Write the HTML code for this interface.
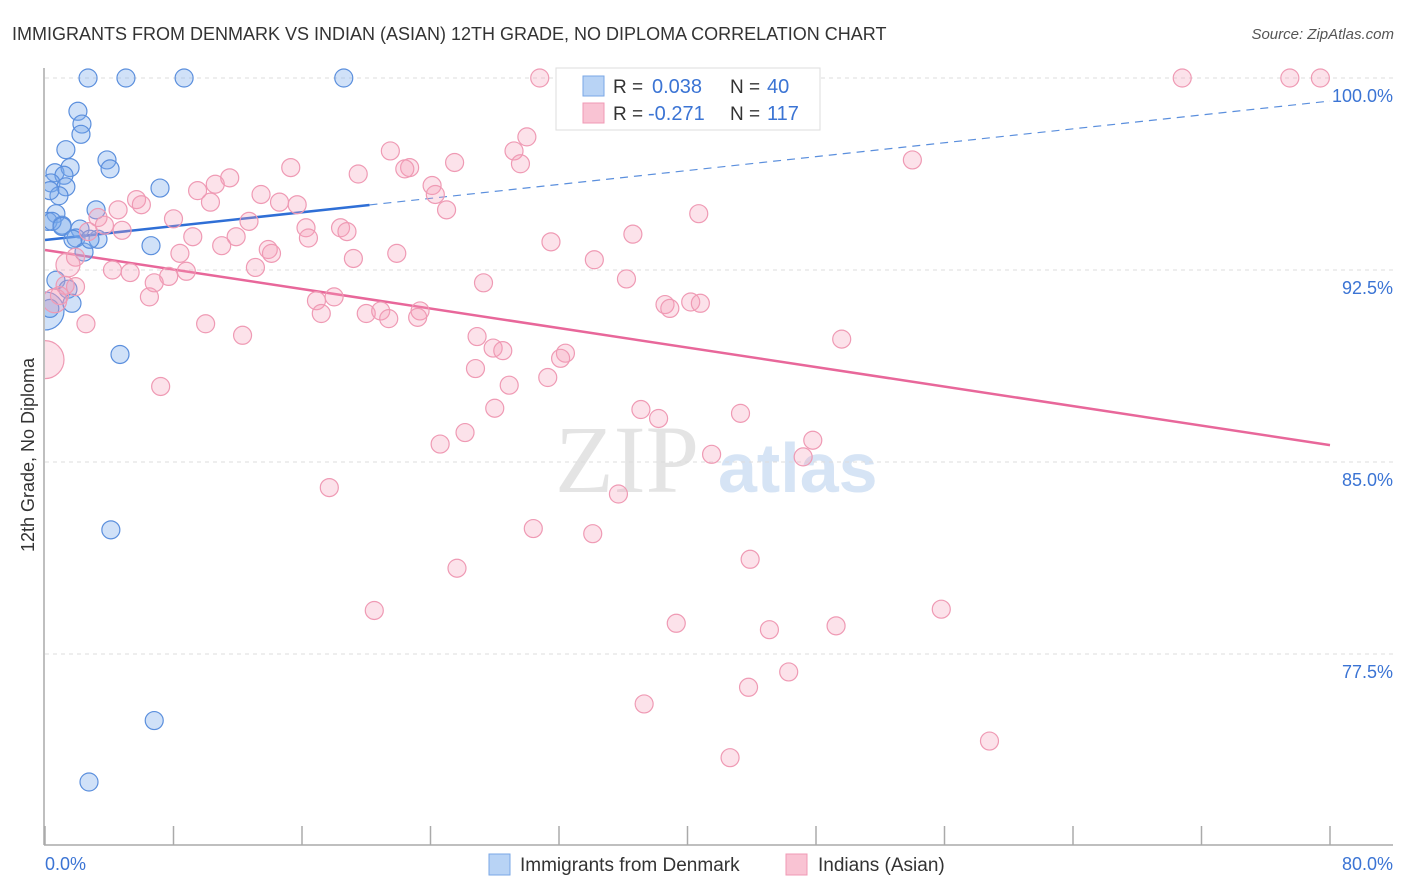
<!DOCTYPE html>
<html><head><meta charset="utf-8"><style>
body{margin:0;background:#fff;font-family:"Liberation Sans",sans-serif;}
svg{display:block}
</style></head><body>
<svg id="chart" width="1406" height="892" xmlns="http://www.w3.org/2000/svg">
<text x="12" y="40" font-size="18" fill="#333">IMMIGRANTS FROM DENMARK VS INDIAN (ASIAN) 12TH GRADE, NO DIPLOMA CORRELATION CHART</text>
<text x="1394" y="39" font-size="15" fill="#555" font-style="italic" text-anchor="end">Source: ZipAtlas.com</text>
<text x="555" y="492" font-size="96" fill="#e4e4e4" font-family="Liberation Serif,serif">ZIP</text>
<text x="718" y="492" font-size="70" fill="#d6e4f5" font-weight="bold">atlas</text>
<g id="grid"></g><g id="trend"></g>
<svg x="45" y="55" width="1361" height="790" overflow="hidden"><g id="pts" transform="translate(-45,-55)"></g></svg>
<rect x="0" y="60" width="44" height="790" fill="#fff"/>
<text transform="translate(34,455) rotate(-90)" font-size="18" fill="#333" text-anchor="middle">12th Grade, No Diploma</text>
<g id="axes"></g>
<g>
<rect x="556" y="68" width="264" height="62" fill="#fff" stroke="#ddd"/>
<rect x="583" y="76" width="21" height="20" fill="#b8d3f5" stroke="#7aa7e6"/>
<rect x="583" y="103" width="21" height="20" fill="#f9c3d3" stroke="#f09ab4"/>
<text x="613" y="93" font-size="19" fill="#333">R = </text><text x="652" y="93" font-size="20" fill="#3b74d4">0.038</text>
<text x="730" y="93" font-size="19" fill="#333">N = </text><text x="767" y="93" font-size="20" fill="#3b74d4">40</text>
<text x="613" y="120" font-size="19" fill="#333">R = </text><text x="648" y="120" font-size="20" fill="#3b74d4">-0.271</text>
<text x="730" y="120" font-size="19" fill="#333">N = </text><text x="767" y="120" font-size="20" fill="#3b74d4">117</text>
</g>
<g>
<rect x="489" y="854" width="21" height="21" fill="#b8d3f5" stroke="#7aa7e6"/>
<text x="520" y="871" font-size="19" fill="#333">Immigrants from Denmark</text>
<rect x="786" y="854" width="21" height="21" fill="#f9c3d3" stroke="#f09ab4"/>
<text x="818" y="871" font-size="19" fill="#333">Indians (Asian)</text>
</g>
</svg>
<script>
const yTicks=[100,92.5,85,77.5];
const yTickLabels=["100.0%","92.5%","85.0%","77.5%"];
const xTicks=[0,8,16,24,32,40,48,56,64,72,80];
const xEndLabels=["0.0%","80.0%"];
const blueX=[2.68,5.04,8.66,18.6,2.05,2.3,2.24,1.3,3.86,4.05,0.62,1.56,1.18,0.37,1.3,0.87,7.16,3.18,0.68,0.19,1.06,2.18,1.93,3.3,6.6,2.43,0.68,1.43,1.68,0.0,4.67,4.1,6.8,2.74,0.3,0.44,2.8,1.06,1.74,0.3];
const blueY=[100,100,100,100,98.7,98.2,97.8,97.2,96.8,96.45,96.3,96.5,96.2,95.9,95.75,95.4,95.7,94.85,94.7,94.4,94.25,94.1,93.75,93.7,93.45,93.2,92.1,91.75,91.2,90.9,89.2,82.35,74.9,72.5,95.6,94.4,93.7,94.2,93.7,91.0];
const blueR=[9,9,9,9,9,9,9,9,9,9,9,9,9,9,9,9,9,9,9,9,9,9,9,9,9,9,9,9,9,19,9,9,9,9,9,9,9,9,9,9];
const pinkX=[30.8,46.8,70.8,77.5,79.4,30.0,21.5,29.2,15.3,22.7,25.5,22.4,29.6,54.0,11.5,19.5,10.6,24.1,9.5,13.45,24.3,5.7,6.0,10.3,14.6,15.7,4.55,25.0,40.7,3.3,8.0,12.7,16.25,18.4,3.7,4.8,18.8,9.2,11.9,16.4,36.6,31.5,11.0,13.9,14.1,8.4,21.9,1.9,19.2,34.2,4.2,5.3,8.8,13.1,7.7,6.8,36.2,27.3,1.25,1.9,0.9,6.5,16.9,18.0,38.6,38.9,40.2,40.8,17.2,20.0,20.9,23.35,21.4,23.2,2.55,10.0,12.3,26.9,49.6,27.9,28.5,32.4,32.1,26.8,28.9,31.3,7.2,28.0,37.1,43.3,38.2,26.15,24.6,47.8,41.5,47.2,17.7,35.7,30.4,34.1,25.65,43.9,20.5,55.8,39.3,45.1,49.25,46.3,43.8,37.3,58.8,42.65,0.0,1.43,0.6,2.7,47.0];
const pinkY=[100,100,100,100,100,97.7,97.15,97.15,96.5,96.5,96.7,96.45,96.65,96.8,96.1,96.25,95.85,95.8,95.6,95.45,95.45,95.25,95.05,95.15,95.15,95.05,94.85,94.85,94.7,94.55,94.5,94.4,94.15,94.15,94.25,94.05,94.0,93.8,93.8,93.75,93.9,93.6,93.45,93.3,93.15,93.15,93.15,93.0,92.95,92.9,92.5,92.4,92.45,92.6,92.25,92.0,92.15,92.0,91.9,91.85,91.5,91.45,91.3,91.45,91.15,91.0,91.25,91.2,90.8,90.8,90.9,90.9,90.6,90.65,90.4,90.4,89.95,89.9,89.8,89.45,89.35,89.25,89.05,88.65,88.0,88.3,87.95,87.1,87.05,86.9,86.7,86.15,85.7,85.85,85.3,85.2,84.0,83.75,82.4,82.2,80.85,81.2,79.2,79.25,78.7,78.45,78.6,76.8,76.2,75.55,74.1,73.45,89.0,92.7,91.3,94.0,100];
const pinkR=pinkX.map((v,i)=>i===pinkX.length-5?19:(i===pinkX.length-4||i===pinkX.length-3?12:9));
const blueTrend=[93.67,99.1];
const pinkTrend=[93.28,85.66];
const blueSolidEnd=[20.2];

const NS="http://www.w3.org/2000/svg";
const X=v=>45+v*(1285/80);
const Y=v=>78+(100-v)*25.6;
function mk(parent,tag,attrs){const e=document.createElementNS(NS,tag);for(const k in attrs)e.setAttribute(k,attrs[k]);document.getElementById(parent).appendChild(e);return e;}
yTicks.forEach((t,i)=>{
 const l=mk('grid','line',{x1:45,x2:1393,y1:Y(t),y2:Y(t),stroke:'#ddd','stroke-dasharray':'4,4'});
 
 
 const tx=mk('grid','text',{x:1393,y:Y(t)+24,'font-size':18,fill:'#3b74d4','text-anchor':'end'});
 tx.textContent=yTickLabels[i];
 
 
});
const ax=mk('axes','line',{x1:44,x2:44,y1:68,y2:845,stroke:'#aaa','stroke-width':1.5});


const bx=mk('axes','line',{x1:44,x2:1393,y1:845,y2:845,stroke:'#aaa','stroke-width':1.5});


xTicks.forEach(t=>{
 const l=mk('axes','line',{x1:X(t),x2:X(t),y1:826,y2:845,stroke:'#aaa','stroke-width':1.5});
 
 
});
const xl0=mk('axes','text',{x:45,y:870,'font-size':18,fill:'#3b74d4'});xl0.textContent=xEndLabels[0];


const xl1=mk('axes','text',{x:1393,y:870,'font-size':18,fill:'#3b74d4','text-anchor':'end'});xl1.textContent=xEndLabels[1];


blueX.forEach((v,i)=>{
 const c=mk('pts','circle',{cx:X(v),cy:Y(blueY[i]),r:blueR[i],fill:'rgba(120,170,235,0.35)',stroke:'#5b8fdd','stroke-width':1.2});
 
 
});
pinkX.forEach((v,i)=>{
 const c=mk('pts','circle',{cx:X(v),cy:Y(pinkY[i]),r:pinkR[i],fill:'rgba(245,160,185,0.3)',stroke:'#ef9ab4','stroke-width':1.2});
 
 
});
const bAt=x=>blueTrend[0]+(blueTrend[1]-blueTrend[0])*x/80;
const t1=mk('trend','line',{x1:X(0),y1:Y(bAt(0)),x2:X(blueSolidEnd[0]),y2:Y(bAt(blueSolidEnd[0])),stroke:'#2f6fd6','stroke-width':2.5});


const t2=mk('trend','line',{x1:X(blueSolidEnd[0]),y1:Y(bAt(blueSolidEnd[0])),x2:X(80),y2:Y(bAt(80)),stroke:'#5b8fdd','stroke-width':1.2,'stroke-dasharray':'8,6'});


const t3=mk('trend','line',{x1:X(0),y1:Y(pinkTrend[0]),x2:X(80),y2:Y(pinkTrend[1]),stroke:'#e8679a','stroke-width':2.5});


</script>
</body></html>
